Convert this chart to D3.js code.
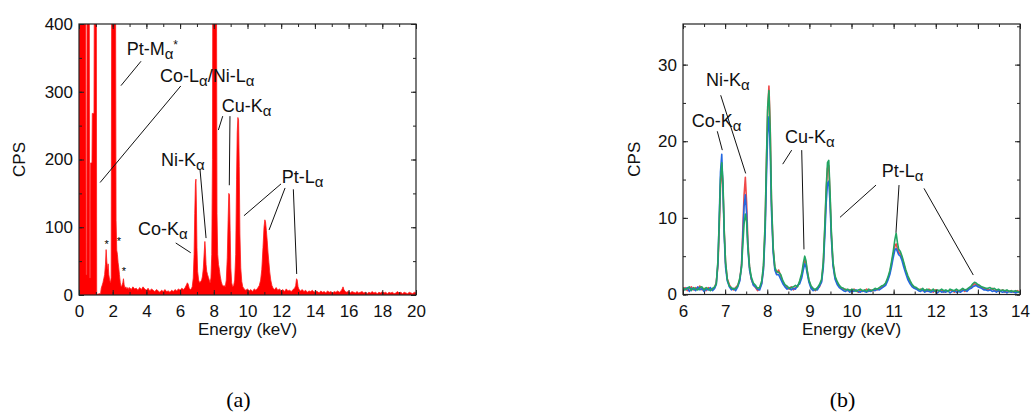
<!DOCTYPE html>
<html>
<head>
<meta charset="utf-8">
<script src="https://cdn.jsdelivr.net/npm/d3@7"></script>
<style>
  body { margin: 0; background: #fff; }
  svg { font-family: "Liberation Sans", Arial, sans-serif; }
  .tick text { font-size: 17px; fill: #111; }
  .lbl { font-size: 17px; fill: #111; }
  .note { font-size: 18px; fill: #111; }
</style>
</head>
<body>
<svg id="chart" width="1032" height="418"></svg>
<script>
// panel (a): full spectrum, 0-20 keV
var energyA = [
  0, 0.40, 0.42, 0.46, 0.48, 0.61, 0.63, 0.67, 0.69, 0.77, 0.79, 0.89, 0.91, 1.03, 1.05, 1.12, 1.20, 1.28, 1.32, 1.37,
  1.42, 1.47, 1.52, 1.57, 1.61, 1.65, 1.69, 1.73, 1.77, 1.82, 1.87, 1.91, 1.94, 2.17, 2.20, 2.24, 2.28, 2.32, 2.36, 2.40,
  2.45, 2.50, 2.55, 2.60, 2.64, 2.68, 2.73, 2.78, 2.84, 2.90, 2.95,
  3.0, 3.1, 3.2, 3.3, 3.4, 3.5, 3.6, 3.7, 3.8, 3.9, 4.0, 4.1, 4.2, 4.3, 4.4, 4.5, 4.6, 4.7, 4.8, 4.9,
  5.0, 5.1, 5.2, 5.3, 5.4, 5.5, 5.6, 5.7, 5.8, 5.9, 6.0, 6.1, 6.2, 6.3,
  6.38, 6.43, 6.48, 6.54, 6.60, 6.66, 6.72, 6.78, 6.83, 6.87, 6.91, 6.94, 6.97, 7.00, 7.04, 7.10, 7.16, 7.22, 7.28, 7.33,
  7.38, 7.43, 7.47, 7.50, 7.54, 7.58, 7.63, 7.68, 7.73, 7.78, 7.83, 7.88, 7.92, 7.94, 8.16, 8.19, 8.23, 8.28, 8.33, 8.38,
  8.44, 8.50, 8.56, 8.62, 8.68, 8.74, 8.80, 8.85, 8.89, 8.93, 8.97, 9.01, 9.06, 9.12, 9.18, 9.24, 9.30, 9.35, 9.39, 9.43,
  9.47, 9.51, 9.55, 9.60, 9.66, 9.72, 9.80, 9.90, 10.0, 10.1, 10.2, 10.3, 10.4, 10.5, 10.6, 10.7, 10.78, 10.85, 10.92, 10.98,
  11.03, 11.07, 11.12, 11.17, 11.22, 11.27, 11.32, 11.38, 11.45, 11.52, 11.6, 11.7, 11.8, 11.9, 12.0, 12.1, 12.2, 12.3, 12.4, 12.5,
  12.6, 12.7, 12.8, 12.86, 12.91, 12.95, 13.0, 13.06, 13.15, 13.25, 13.35, 13.45, 13.55, 13.65, 13.75, 13.85, 13.95, 14.05, 14.15, 14.25,
  14.35, 14.45, 14.55, 14.65, 14.75, 14.85, 14.95, 15.05, 15.15, 15.25, 15.35, 15.45, 15.55, 15.62, 15.67, 15.72, 15.8, 15.9, 16.0, 16.1,
  16.2, 16.3, 16.4, 16.5, 16.6, 16.7, 16.8, 16.9, 17.0, 17.1, 17.2, 17.3, 17.4, 17.5, 17.6, 17.7, 17.8, 17.9, 18.0, 18.1,
  18.2, 18.3, 18.4, 18.5, 18.6, 18.7, 18.8, 18.9, 19.0, 19.1, 19.2, 19.3, 19.4, 19.5, 19.6, 19.7, 19.8, 19.9, 20.0
];
var cpsA = [
  450, 450, 30, 30, 450, 450, 25, 25, 195, 195, 268, 268, 450, 450, 2, 1, 2, 2, 10, 14,
  18, 24, 30, 45, 67, 50, 38, 46, 30, 22, 18, 26, 450, 450, 110, 66, 60, 48, 40, 30,
  18, 12, 14, 18, 24, 15, 10, 12, 9, 11, 8,
  11, 8, 12, 9, 10, 7, 11, 8, 12, 9, 7, 10, 6, 9, 7, 5, 8, 6, 4, 7,
  5, 8, 5, 6, 4, 7, 5, 8, 6, 9, 7, 10, 8, 11,
  15, 18, 16, 10, 8, 9, 12, 25, 60, 120, 165, 171, 130, 70, 35, 22, 18, 20, 22, 28,
  40, 62, 79, 68, 45, 35, 30, 26, 22, 18, 25, 60, 200, 450, 450, 120, 60, 45, 38, 28,
  20, 15, 13, 14, 12, 22, 55, 110, 150, 148, 95, 40, 18, 12, 14, 22, 60, 170, 240, 262,
  258, 190, 90, 40, 20, 12, 9, 7, 9, 6, 8, 5, 9, 7, 10, 14, 22, 38, 70, 100,
  111, 108, 95, 80, 62, 48, 34, 22, 14, 10, 8, 11, 7, 9, 6, 8, 5, 9, 6, 7,
  5, 8, 10, 14, 24, 22, 12, 8, 6, 8, 5, 7, 4, 6, 5, 7, 4, 6, 5, 3,
  6, 4, 5, 3, 6, 4, 5, 3, 5, 4, 6, 4, 6, 9, 12, 8, 5, 4, 6, 3,
  5, 4, 3, 5, 3, 4, 5, 3, 4, 2, 4, 3, 5, 3, 4, 2, 4, 3, 5, 3,
  4, 2, 4, 3, 4, 2, 3, 5, 3, 4, 2, 4, 3, 2, 4, 3, 2, 4, 3
];

// panel (b): 6-14 keV, three measurements
var energyB = [
  6.00, 6.05, 6.10, 6.15, 6.20, 6.25, 6.30, 6.35, 6.40, 6.45, 6.50, 6.55, 6.60, 6.65, 6.70, 6.75,
  6.79, 6.83, 6.86, 6.89, 6.92, 6.95, 6.98, 7.01, 7.05, 7.10,
  7.15, 7.20, 7.25, 7.30, 7.35,
  7.39, 7.42, 7.45, 7.48, 7.51, 7.54, 7.58, 7.62, 7.67,
  7.72, 7.77, 7.82, 7.87,
  7.91, 7.95, 7.98, 8.01, 8.04, 8.07, 8.10, 8.14, 8.18, 8.22,
  8.27, 8.32, 8.37, 8.42, 8.47, 8.52, 8.57, 8.62, 8.67, 8.72, 8.77,
  8.82, 8.86, 8.89, 8.92, 8.95, 8.99, 9.04,
  9.09, 9.14, 9.19, 9.24, 9.29,
  9.33, 9.37, 9.40, 9.43, 9.46, 9.49, 9.52, 9.56, 9.61,
  9.66, 9.71, 9.76, 9.81, 9.86, 9.91, 9.96, 10.01, 10.06, 10.11, 10.16, 10.21, 10.26, 10.31, 10.36, 10.41, 10.46, 10.51, 10.56, 10.61, 10.66, 10.71,
  10.76, 10.81, 10.86, 10.91, 10.95, 10.99, 11.03, 11.06, 11.09, 11.12, 11.16, 11.20, 11.24, 11.29, 11.34, 11.39, 11.44, 11.49,
  11.54, 11.59, 11.64, 11.69, 11.74, 11.79, 11.84, 11.89, 11.94, 11.99, 12.04, 12.09, 12.14, 12.19, 12.24, 12.29, 12.34, 12.39, 12.44, 12.49, 12.54, 12.59, 12.64, 12.69, 12.74, 12.79,
  12.84, 12.88, 12.92, 12.96, 13.00, 13.04, 13.09, 13.14, 13.19,
  13.24, 13.29, 13.34, 13.39, 13.44, 13.49, 13.54, 13.59, 13.64, 13.69, 13.74, 13.79, 13.84, 13.89, 13.94, 13.99
];
var cpsRed = [
  0.7, 0.9, 0.5, 0.8, 1.0, 0.6, 0.9, 0.7, 1.1, 0.6, 0.8, 0.5, 0.9, 0.7, 0.6, 0.9,
  1.6, 3.8, 8.5, 14, 16.8, 13.8, 8.2, 4.1, 2.1, 1.3,
  0.8, 0.6, 0.9, 1.2, 2.0,
  4, 8.5, 13, 15.3, 12, 7, 3.5, 2, 1.3,
  0.9, 0.5, 0.8, 1.5,
  3.5, 9, 17, 24, 27.2, 22, 12, 6, 3.5, 2.8,
  3.2, 2.4, 1.6, 1.2, 0.9, 0.7, 1.0, 0.6, 0.9, 1.1, 1.6,
  2.5, 3.8, 4.5, 4.1, 3.0, 1.8, 1.0,
  0.7, 0.5, 0.8, 1.0, 1.8,
  4, 9, 13.5, 16.5, 16.8, 13, 8, 4, 2.2,
  1.5, 1.1, 0.8, 0.6, 0.7, 0.5, 0.6, 0.4, 0.7, 0.5, 0.3, 0.6, 0.4, 0.5, 0.7, 0.4, 0.6, 0.5, 0.7, 0.6, 0.8, 0.9,
  1.1, 1.4, 2.0, 2.9, 4.0, 5.2, 6.3, 6.6, 6.0, 5.5, 5.3, 4.8, 4.0, 3.0, 2.2, 1.6, 1.2, 0.9,
  0.8, 0.6, 0.7, 0.5, 0.6, 0.4, 0.7, 0.5, 0.3, 0.6, 0.5, 0.4, 0.6, 0.3, 0.5, 0.4, 0.6, 0.5, 0.3, 0.6, 0.4, 0.5, 0.7, 0.4, 0.6, 0.8,
  1.0, 1.2, 1.4, 1.3, 1.2, 1.1, 0.9, 0.8, 0.7,
  0.7, 0.6, 0.8, 0.5, 0.6, 0.4, 0.5, 0.6, 0.3, 0.5, 0.4, 0.5, 0.3, 0.4, 0.5, 0.3
];
var cpsBlue = [
  0.5, 0.7, 0.9, 0.4, 0.8, 0.7, 0.5, 1.0, 0.6, 0.8, 0.4, 0.7, 0.6, 0.9, 0.5, 0.8,
  1.3, 4.2, 10, 16, 18.3, 13.5, 7.5, 3.6, 1.8, 1.0,
  0.6, 0.8, 0.5, 1.0, 1.8,
  3.8, 7.5, 11.5, 13, 10.5, 6, 3.2, 2.1, 1.2,
  1.0, 0.7, 0.6, 1.4,
  3.2, 8, 15, 21, 23.2, 19, 11, 5.5, 3.2, 2.6,
  2.6, 2.0, 1.4, 1.0, 0.7, 0.9, 0.6, 0.8, 0.7, 1.2, 1.4,
  2.2, 3.3, 4.0, 3.6, 2.7, 1.6, 0.8,
  0.5, 0.7, 0.6, 1.1, 1.6,
  3.5, 8, 12, 14.5, 14.8, 12, 7.5, 3.8, 2.0,
  1.3, 0.9, 0.7, 0.5, 0.4, 0.6, 0.3, 0.5, 0.4, 0.6, 0.4, 0.3, 0.5, 0.4, 0.3, 0.5, 0.4, 0.6, 0.5, 0.7, 0.6, 0.8,
  1.0, 1.2, 1.8, 2.6, 3.6, 4.8, 5.8, 6.0, 5.6, 5.2, 5.0, 4.4, 3.6, 2.7, 1.9, 1.4, 1.0, 0.8,
  0.7, 0.5, 0.4, 0.6, 0.3, 0.5, 0.4, 0.3, 0.5, 0.4, 0.2, 0.5, 0.3, 0.4, 0.3, 0.5, 0.2, 0.4, 0.5, 0.3, 0.4, 0.3, 0.5, 0.6, 0.4, 0.7,
  0.8, 1.0, 1.1, 1.2, 1.0, 0.9, 0.8, 0.6, 0.6,
  0.5, 0.6, 0.4, 0.5, 0.3, 0.5, 0.4, 0.3, 0.4, 0.2, 0.4, 0.3, 0.4, 0.2, 0.3, 0.3
];
var cpsGreen = [
  0.9, 0.6, 0.8, 1.0, 0.5, 0.9, 0.7, 0.6, 0.9, 1.0, 0.6, 0.9, 0.7, 0.5, 0.8, 1.0,
  1.4, 4.5, 9.5, 15, 17.2, 14.5, 8, 4.3, 2.0, 1.1,
  0.9, 0.7, 0.8, 1.1, 2.2,
  3.5, 6.5, 9.2, 10.5, 9.5, 6.2, 3.6, 2.3, 1.5,
  1.2, 0.8, 0.9, 1.8,
  3.8, 9.5, 17.5, 24.5, 26.6, 21.5, 12.5, 6.2, 3.6, 3.0,
  2.9, 2.6, 1.8, 1.3, 1.1, 0.8, 0.9, 1.0, 1.2, 1.0, 1.8,
  2.8, 4.2, 5.0, 4.4, 3.1, 1.9, 1.1,
  0.8, 0.6, 0.9, 1.3, 2.0,
  4.2, 9.5, 14, 17.2, 17.5, 13.5, 8.5, 4.3, 2.4,
  1.7, 1.2, 0.9, 0.8, 0.6, 0.7, 0.5, 0.7, 0.6, 0.4, 0.6, 0.7, 0.5, 0.6, 0.4, 0.7, 0.5, 0.6, 0.8, 0.7, 0.9, 1.1,
  1.2, 1.5, 2.2, 3.1, 4.3, 5.6, 7.2, 8.0, 6.8, 5.9, 5.6, 5.0, 4.2, 3.2, 2.4, 1.8, 1.3, 1.0,
  0.9, 0.7, 0.6, 0.8, 0.5, 0.7, 0.6, 0.5, 0.7, 0.4, 0.6, 0.5, 0.7, 0.5, 0.6, 0.4, 0.7, 0.6, 0.5, 0.7, 0.5, 0.6, 0.8, 0.6, 0.7, 0.9,
  1.1, 1.4, 1.6, 1.5, 1.3, 1.2, 1.0, 0.9, 0.8,
  0.8, 0.9, 0.7, 0.8, 0.6, 0.7, 0.5, 0.6, 0.5, 0.6, 0.4, 0.5, 0.4, 0.5, 0.4, 0.3
];

var xTicksA = [0, 2, 4, 6, 8, 10, 12, 14, 16, 18, 20];
var yTicksA = [0, 100, 200, 300, 400];
var xTicksB = [6, 7, 8, 9, 10, 11, 12, 13, 14];
var yTicksB = [0, 10, 20, 30];

// peak labels, placed in data units: text + subscript, anchor point, leader lines
var notesA = [
  {t: "Pt-M", s: "\u03b1", sup: "*", at: [2.83, 354], lines: [[3.68, 345, 2.49, 309]]},
  {t: "Co-L", s: "\u03b1", t2: "/Ni-L", s2: "\u03b1", at: [4.81, 314], lines: [[6.04, 308.5, 1.25, 166]]},
  {t: "Cu-K", s: "\u03b1", at: [8.47, 270], lines: [[8.53, 264, 8.27, 243.5], [8.96, 264, 8.92, 162]]},
  {t: "Ni-K", s: "\u03b1", at: [4.87, 190], lines: [[7.18, 186, 7.54, 84]]},
  {t: "Co-K", s: "\u03b1", at: [3.50, 88.6], lines: [[5.74, 76.8, 6.63, 62.4]]},
  {t: "Pt-L", s: "\u03b1", at: [12.03, 165], lines: [[11.99, 164, 9.79, 117], [12.23, 158, 11.28, 96], [12.72, 156, 12.92, 31]]}
];
var starsA = [[1.64, 78.7], [2.37, 82.7], [2.67, 38.8]];
var notesB = [
  {t: "Co-K", s: "\u03b1", at: [6.207, 21.84], lines: [[6.814, 21.3, 6.933, 18.84]]},
  {t: "Ni-K", s: "\u03b1", at: [6.546, 27.18], lines: [[6.895, 26.0, 7.488, 15.8]]},
  {t: "Cu-K", s: "\u03b1", at: [8.421, 19.75], lines: [[8.580, 18.84, 8.367, 17.01], [8.818, 18.84, 8.872, 5.89]]},
  {t: "Pt-L", s: "\u03b1", at: [10.717, 15.32], lines: [[10.582, 14.28, 9.727, 10.07], [11.128, 14.28, 11.056, 8.06], [11.721, 13.85, 12.891, 2.54]]}
];

var svg = d3.select("#chart");

function frame(opts) {
  var g = svg.append("g");
  var x = d3.scaleLinear().domain(opts.xd).range([opts.left, opts.right]);
  var y = d3.scaleLinear().domain(opts.yd).range([opts.bottom, opts.top]);
  var w = opts.right - opts.left, h = opts.bottom - opts.top;

  g.append("clipPath").attr("id", opts.id + "-clip")
    .append("rect").attr("x", opts.left).attr("y", opts.top).attr("width", w).attr("height", h);

  var plot = g.append("g").attr("clip-path", "url(#" + opts.id + "-clip)");

  // minor ticks on all four sides, inward
  var minorX = d3.range(opts.xd[0], opts.xd[1] + 1e-9, opts.xMinor);
  var minorY = d3.range(opts.yd[0], opts.yd[1] + 1e-9, opts.yMinor);
  [[d3.axisBottom(x), opts.bottom], [d3.axisTop(x), opts.top]].forEach(function(a) {
    g.append("g").attr("transform", "translate(0," + a[1] + ")")
      .call(a[0].tickValues(minorX).tickSize(-3).tickFormat(""))
      .call(function(s) { s.select(".domain").remove(); });
  });
  [[d3.axisLeft(y), opts.left], [d3.axisRight(y), opts.right]].forEach(function(a) {
    g.append("g").attr("transform", "translate(" + a[1] + ",0)")
      .call(a[0].tickValues(minorY).tickSize(-3).tickFormat(""))
      .call(function(s) { s.select(".domain").remove(); });
  });

  // major ticks with labels
  g.append("g").attr("transform", "translate(0," + opts.bottom + ")")
    .call(d3.axisBottom(x).tickValues(opts.xTicks).tickSize(-5).tickPadding(10).tickFormat(d3.format("d")))
    .call(function(s) { s.select(".domain").remove(); s.selectAll("text").attr("font-size", null); });
  g.append("g").attr("transform", "translate(0," + opts.top + ")")
    .call(d3.axisTop(x).tickValues(opts.xTicks).tickSize(-5).tickFormat(""))
    .call(function(s) { s.select(".domain").remove(); });
  g.append("g").attr("transform", "translate(" + opts.left + ",0)")
    .call(d3.axisLeft(y).tickValues(opts.yTicks).tickSize(-5).tickPadding(6).tickFormat(d3.format("d")))
    .call(function(s) { s.select(".domain").remove(); s.selectAll("text").attr("font-size", null); });
  g.append("g").attr("transform", "translate(" + opts.right + ",0)")
    .call(d3.axisRight(y).tickValues(opts.yTicks).tickSize(-5).tickFormat(""))
    .call(function(s) { s.select(".domain").remove(); });

  g.selectAll(".tick line").attr("stroke", "#222");
  g.selectAll("g").attr("font-family", null).attr("font-size", null);

  g.append("rect").attr("x", opts.left).attr("y", opts.top).attr("width", w).attr("height", h)
    .attr("fill", "none").attr("stroke", "#222").attr("stroke-width", 1.2);

  g.append("text").attr("class", "lbl").attr("text-anchor", "middle")
    .attr("x", (opts.left + opts.right) / 2).attr("y", opts.bottom + 40)
    .text("Energy (keV)");
  g.append("text").attr("class", "lbl").attr("text-anchor", "middle")
    .attr("transform", "translate(" + opts.yTitleX + "," + (opts.top + opts.bottom) / 2 + ") rotate(-90)")
    .text("CPS");
  g.append("text").attr("text-anchor", "middle")
    .attr("x", (opts.left + opts.right) / 2 - 9).attr("y", 407)
    .attr("font-family", "'Liberation Serif', 'Times New Roman', serif").attr("font-size", 22)
    .text(opts.tag);

  return {g: g, plot: plot, x: x, y: y};
}

function notes(p, list) {
  list.forEach(function(n) {
    n.lines.forEach(function(l) {
      p.g.append("line")
        .attr("x1", p.x(l[0])).attr("y1", p.y(l[1]))
        .attr("x2", p.x(l[2])).attr("y2", p.y(l[3]))
        .attr("stroke", "#111").attr("stroke-width", 1);
    });
    var t = p.g.append("text").attr("class", "note")
      .attr("x", p.x(n.at[0])).attr("y", p.y(n.at[1]));
    t.append("tspan").text(n.t);
    t.append("tspan").attr("font-size", 15).attr("dy", 4).text(n.s);
    if (n.t2) {
      t.append("tspan").attr("dy", -4).text(n.t2);
      t.append("tspan").attr("font-size", 15).attr("dy", 4).text(n.s2);
    }
    if (n.sup) {
      t.append("tspan").attr("font-size", 12).attr("dy", -10).text(n.sup);
    }
  });
}

// ---- panel (a)
var pa = frame({id: "a", left: 79, right: 416, top: 24, bottom: 295, xd: [0, 20], yd: [0, 400],
  xTicks: xTicksA, yTicks: yTicksA, xMinor: 1, yMinor: 50, yTitleX: 25, tag: "(a)"});

var specA = energyA.map(function(e, i) { return [e, cpsA[i]]; });
pa.plot.append("path")
  .datum(specA)
  .attr("fill", "#ff0000")
  .attr("stroke", "#ff1a1a")
  .attr("stroke-width", 0.8)
  .attr("d", d3.area().x(function(d) { return pa.x(d[0]); }).y0(pa.y(0)).y1(function(d) { return pa.y(d[1]); }));

pa.g.selectAll(".star").data(starsA).enter().append("text")
  .attr("class", "star").attr("text-anchor", "middle").attr("font-size", 11)
  .attr("x", function(d) { return pa.x(d[0]); })
  .attr("y", function(d) { return pa.y(d[1]) + 6; })
  .text("*");
notes(pa, notesA);

// ---- panel (b)
var pb = frame({id: "b", left: 683, right: 1020, top: 24, bottom: 294.5, xd: [6, 14], yd: [0, 35.3],
  xTicks: xTicksB, yTicks: yTicksB, xMinor: 0.5, yMinor: 5, yTitleX: 640, tag: "(b)"});

var series = [
  {vals: cpsRed, color: "#f04848"},
  {vals: cpsBlue, color: "#2468e0"},
  {vals: cpsGreen, color: "#22a562"}
];
var lineB = d3.line().x(function(d) { return pb.x(d[0]); }).y(function(d) { return pb.y(d[1]); });
series.forEach(function(s) {
  pb.plot.append("path")
    .datum(energyB.map(function(e, i) { return [e, s.vals[i]]; }))
    .attr("fill", "none")
    .attr("stroke", s.color)
    .attr("stroke-width", 1.6)
    .attr("stroke-linejoin", "round")
    .attr("d", lineB);
});
notes(pb, notesB);
</script>
</body>
</html>
